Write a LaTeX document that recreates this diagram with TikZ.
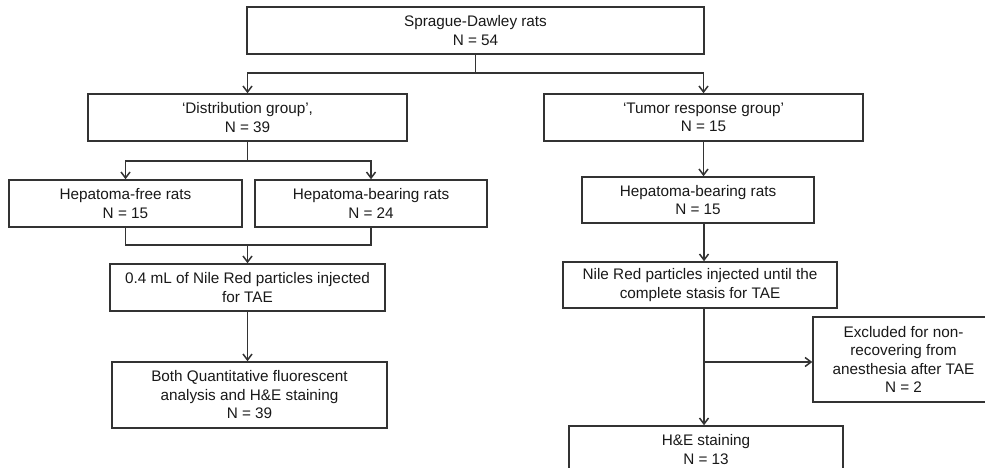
\documentclass[tikz,border=0pt]{standalone}
\usepackage{fontspec}
\setmainfont{Liberation Sans}
\usetikzlibrary{arrows.meta}

\newlength{\du}
\setlength{\du}{1pt}
\definecolor{dialinecolor}{rgb}{0.200000, 0.200000, 0.200000}
\definecolor{dialinetext}{rgb}{0.100000, 0.100000, 0.100000}
\tikzset{
  flowbox/.style={draw=dialinecolor, line width=1.500000\du, fill=white, inner sep=0pt,
    align=center, text=dialinetext, font=\fontsize{15.3}{18.5}\selectfont},
  flowline/.style={draw=dialinecolor, line width=1.500000\du},
  flowarrow/.style={flowline, -{Straight Barb[length=6pt,width=9pt]}}
}

\begin{document}
\begin{tikzpicture}
\pgftransformxscale{1.000000}
\pgftransformyscale{-1.000000}
\useasboundingbox (0.000000\du,0.000000\du) rectangle (985.000000\du,468.000000\du);
\clip (0.000000\du,0.000000\du) rectangle (985.000000\du,468.000000\du);
\fill[white] (0.000000\du,0.000000\du) rectangle (985.000000\du,468.000000\du);
% boxes
\node[flowbox, minimum width=457\du, minimum height=47\du] (rats) at (475.500000\du,30.500000\du){Sprague-Dawley rats\\N = 54};
\node[flowbox, minimum width=319\du, minimum height=47\du] (dist) at (247.500000\du,117.500000\du){‘Distribution group’,\\N = 39};
\node[flowbox, minimum width=319\du, minimum height=47\du] (tumor) at (703.500000\du,117.500000\du){‘Tumor response group’\\N = 15};
\node[flowbox, minimum width=233\du, minimum height=47\du] (free) at (125.500000\du,203.500000\du){Hepatoma-free rats\\N = 15};
\node[flowbox, minimum width=232\du, minimum height=47\du] (bear) at (371.000000\du,203.500000\du){Hepatoma-bearing rats\\N = 24};
\node[flowbox, minimum width=232\du, minimum height=46\du] (bearR) at (698.000000\du,200.000000\du){Hepatoma-bearing rats\\N = 15};
\node[flowbox, minimum width=275\du, minimum height=47\du] (inject) at (247.500000\du,287.500000\du){0.4 mL of Nile Red particles injected\\for TAE};
\node[flowbox, minimum width=274\du, minimum height=46\du] (nile) at (700.000000\du,285.000000\du){Nile Red particles injected until the\\complete stasis for TAE};
\node[flowbox, minimum width=275\du, minimum height=66\du] (both) at (249.500000\du,395.000000\du){Both Quantitative fluorescent\\analysis and H\&E staining\\N = 39};
\node[flowbox, minimum width=181\du, minimum height=85\du] (excl) at (903.500000\du,359.500000\du){Excluded for non-\\recovering from\\anesthesia after TAE\\N = 2};
\node[flowbox, minimum width=274\du, minimum height=47\du] (stain) at (706.000000\du,449.500000\du){H\&E staining\\N = 13};
% junctions
\coordinate (split) at (475.500000\du,73.000000\du);
\coordinate (distsplit) at (247.500000\du,161.000000\du);
\coordinate (merge) at (247.500000\du,245.000000\du);
\coordinate (exclsplit) at (704.000000\du,362.000000\du);
% connectors
\draw[flowline] (rats.south) -- (split);
\draw[flowarrow] (split) -| (dist.north);
\draw[flowarrow] (split) -| (tumor.north);
\draw[flowline] (dist.south) -- (distsplit);
\draw[flowarrow] (distsplit) -| (free.north);
\draw[flowarrow] (distsplit) -| (bear.north);
\draw[flowline] (free.south) |- (merge);
\draw[flowline] (bear.south) |- (merge);
\draw[flowarrow] (merge) -- (inject.north);
\draw[flowarrow] (inject.south) -- (inject.south |- both.north);
\draw[flowarrow] (tumor.south) -- (tumor.south |- bearR.north);
\draw[flowarrow] (bearR.south -| exclsplit) -- (exclsplit |- nile.north);
\draw[flowarrow] (nile.south -| exclsplit) -- (exclsplit |- stain.north);
\draw[flowarrow] (exclsplit) -- (excl.west |- exclsplit);
\end{tikzpicture}
\end{document}
